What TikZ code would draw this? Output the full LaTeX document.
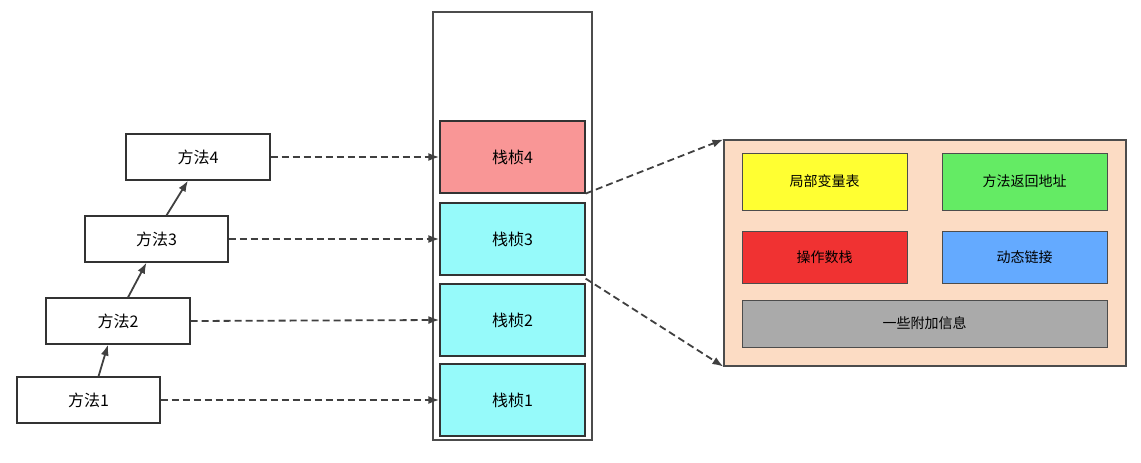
\documentclass[tikz,border=0pt]{standalone}
\usepackage{fontspec}
\setmainfont{Noto Sans CJK SC}
\usetikzlibrary{arrows.meta,calc}
\begin{document}
\begin{tikzpicture}[x=1pt,y=-1pt,
 box/.style={draw=black!80,line width=1.2pt,font=\fontsize{16}{18}\selectfont},
 ibox/.style={draw=black!70,line width=1pt,font=\fontsize{14}{16}\selectfont},
 arr/.style={-{Latex[length=11pt,width=8pt]},line width=1.8pt,black!75},
 darr/.style={arr,dash pattern=on 7pt off 4pt}]
\useasboundingbox (0,0) rectangle (1141,463);
\node[box,draw=black!70,minimum width=159pt,minimum height=428pt] (stack) at (512.5,226) {};
\foreach \n/\y/\c in {4/157/{rgb,255:red,249;green,150;blue,150},3/239/{rgb,255:red,150;green,250;blue,250},2/320/{rgb,255:red,150;green,250;blue,250},1/400/{rgb,255:red,150;green,250;blue,250}}
  \node[box,fill=\c,minimum width=145pt,minimum height=72pt] (f\n) at (512.5,\y) {栈桢\n};
\node[box,minimum width=144pt,minimum height=46pt] (m4) at (198,157) {方法4};
\node[box,minimum width=143pt,minimum height=46pt] (m3) at (156.5,239) {方法3};
\node[box,minimum width=144pt,minimum height=46pt] (m2) at (118,321) {方法2};
\node[box,minimum width=143pt,minimum height=46pt] (m1) at (88.5,400) {方法1};
\draw[arr] ($(m1.north)+(10,0)$) -- ($(m2.south)+(-10,0)$);
\draw[arr] ($(m2.north)+(10,0)$) -- ($(m3.south)+(-10,0)$);
\draw[arr] ($(m3.north)+(10,0)$) -- ($(m4.south)+(-10,0)$);
\foreach \i in {1,...,4} \draw[darr] (m\i.east) -- (f\i.west);
\node[draw=black!70,line width=1.2pt,fill={rgb,255:red,252;green,220;blue,196},minimum width=402pt,minimum height=226pt] (panel) at (925,253) {};
\draw[darr] (f4.south east) -- (panel.north west);
\draw[darr] ($(f3.south east)+(0,3)$) -- (panel.south west);
\node[ibox,fill={rgb,255:red,255;green,255;blue,50},minimum width=165pt,minimum height=57pt] (b1) at (824.5,181.5) {局部变量表};
\node[ibox,fill={rgb,255:red,100;green,235;blue,100},minimum width=165pt,minimum height=57pt] (b2) at (1024.5,181.5) {方法返回地址};
\node[ibox,fill={rgb,255:red,240;green,50;blue,50},minimum width=165pt,minimum height=52pt] (b3) at (824.5,257) {操作数栈};
\node[ibox,fill={rgb,255:red,100;green,170;blue,255},minimum width=165pt,minimum height=52pt] (b4) at (1024.5,257) {动态链接};
\node[ibox,fill={rgb,255:red,170;green,170;blue,170},minimum width=365pt,minimum height=47pt] (b5) at (924.5,323.5) {一些附加信息};
\end{tikzpicture}
\end{document}
